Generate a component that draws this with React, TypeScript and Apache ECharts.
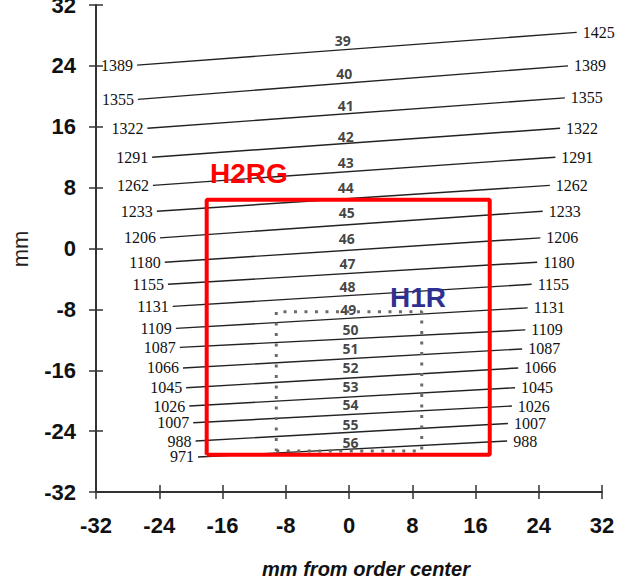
import React, { useEffect, useRef } from "react";
import * as echarts from "echarts";

const orders = [39, 40, 41, 42, 43, 44, 45, 46, 47, 48, 49, 50, 51, 52, 53, 54, 55, 56];
const leftWavelengths = [1389, 1355, 1322, 1291, 1262, 1233, 1206, 1180, 1155, 1131, 1109, 1087, 1066, 1045, 1026, 1007, 988, 971];
const rightWavelengths = [1425, 1389, 1355, 1322, 1291, 1262, 1233, 1206, 1180, 1155, 1131, 1109, 1087, 1066, 1045, 1026, 1007, 988];
const leftX = [-26.8, -26.7, -25.5, -24.9, -24.8, -24.3, -23.9, -23.3, -22.9, -22.3, -21.9, -21.4, -21.0, -20.6, -20.2, -19.7, -19.4, -19.1];
const leftY = [24.1, 19.6, 15.8, 12.0, 8.3, 4.9, 1.4, -1.8, -4.7, -7.6, -10.5, -13.0, -15.7, -18.3, -20.7, -22.9, -25.3, -27.4];
const rightX = [28.8, 27.7, 27.3, 26.7, 26.1, 25.4, 24.5, 24.2, 23.8, 23.1, 22.6, 22.3, 21.9, 21.4, 21.0, 20.6, 20.1, 20.0];
const rightY = [28.4, 24.0, 19.8, 15.8, 12.0, 8.3, 4.9, 1.4, -1.8, -4.7, -7.8, -10.7, -13.2, -15.7, -18.3, -20.7, -23.0, -25.3];
const orderLabelX = [-0.8, -0.6, -0.4, -0.4, -0.4, -0.4, -0.3, -0.3, -0.2, -0.2, -0.1, 0.2, 0.2, 0.2, 0.2, 0.2, 0.2, 0.2];
const orderLabelY = [27.4, 23.0, 18.8, 14.7, 11.3, 8.0, 4.7, 1.3, -2.0, -5.0, -8.0, -10.7, -13.2, -15.7, -18.1, -20.5, -23.1, -25.5];

const h2rgX = [-18.0, 17.8];
const h2rgY = [-27.1, 6.4];
const h1rX = [-9.2, 9.2];
const h1rY = [-26.6, -8.3];

function boxPoints(xs: number[], ys: number[]) {
  return [
    [xs[0], ys[0]],
    [xs[1], ys[0]],
    [xs[1], ys[1]],
    [xs[0], ys[1]],
    [xs[0], ys[0]],
  ];
}

export default function App() {
  const ref = useRef<HTMLDivElement>(null);
  useEffect(() => {
    document.body.style.margin = "0";
    if (!ref.current) return;
    const chart = echarts.init(ref.current, undefined, { renderer: "svg" });

    const orderSeries: any[] = orders.map((o, i) => ({
      type: "line",
      name: "order" + o,
      data: [
        {
          value: [leftX[i], leftY[i]],
          label: {
            show: true,
            position: "left",
            distance: 4,
            formatter: String(leftWavelengths[i]),
          },
        },
        {
          value: [rightX[i], rightY[i]],
          label: {
            show: true,
            position: "right",
            distance: 6,
            formatter: String(rightWavelengths[i]),
          },
        },
      ],
      symbol: "circle",
      symbolSize: 0.01,
      showSymbol: true,
      itemStyle: { color: "#222" },
      lineStyle: { color: "#222", width: 1.4 },
      label: {
        show: true,
        fontFamily: "Liberation Serif",
        fontSize: 16,
        color: "#111",
      },
      silent: true,
      z: 2,
    }));

    const tickLabelStyle = {
      fontFamily: "Liberation Sans",
      fontWeight: "bold" as const,
      fontSize: 22,
      color: "#111",
    };

    const option: any = {
      animation: false,
      backgroundColor: "#fff",
      grid: { left: 96, right: 16, top: 5, bottom: 90, containLabel: false, outerBoundsMode: "none" },
      xAxis: [
        {
          type: "value",
          min: -32,
          max: 32,
          interval: 8,
          position: "bottom",
          axisLine: { show: true, onZero: false, lineStyle: { color: "#333", width: 2 } },
          axisTick: { show: true, length: 7, lineStyle: { color: "#333", width: 1.5 } },
          axisLabel: { ...tickLabelStyle, margin: 22, formatter: (v: number) => String(v) },
          splitLine: { show: false },
        },
        {
          type: "value",
          min: -32,
          max: 32,
          interval: 8,
          position: "bottom",
          axisLine: { show: false, onZero: false },
          axisTick: { show: true, inside: true, length: 7, lineStyle: { color: "#333", width: 1.5 } },
          axisLabel: { show: false },
          splitLine: { show: false },
        },
      ],
      yAxis: [
        {
          type: "value",
          min: -32,
          max: 32,
          interval: 8,
          position: "left",
          axisLine: { show: true, onZero: false, lineStyle: { color: "#333", width: 2 } },
          axisTick: { show: true, length: 7, lineStyle: { color: "#333", width: 1.5 } },
          axisLabel: { ...tickLabelStyle, margin: 20, formatter: (v: number) => String(v) },
          splitLine: { show: false },
        },
        {
          type: "value",
          min: -32,
          max: 32,
          interval: 8,
          position: "left",
          axisLine: { show: false, onZero: false },
          axisTick: { show: true, inside: true, length: 7, lineStyle: { color: "#333", width: 1.5 } },
          axisLabel: { show: false },
          splitLine: { show: false },
        },
      ],
      series: [
        ...orderSeries,
        {
          type: "scatter",
          name: "orders",
          symbolSize: 0,
          data: orders.map((o, i) => [orderLabelX[i], orderLabelY[i], o]),
          label: {
            show: true,
            position: "inside",
            formatter: (p: any) => String(p.value[2]),
            fontFamily: "Open Sans",
            fontWeight: "bold",
            fontSize: 14,
            lineHeight: 14,
            color: "#111",
          },
          silent: true,
          z: 3,
        },
        {
          type: "line",
          name: "H2RG",
          data: boxPoints(h2rgX, h2rgY),
          symbol: "none",
          lineStyle: { color: "#ff0000", width: 4 },
          silent: true,
          z: 5,
        },
        {
          type: "line",
          name: "H1R",
          data: boxPoints(h1rX, h1rY),
          symbol: "none",
          lineStyle: { color: "#6b6b6b", width: 3, type: [3, 7.5] },
          silent: true,
          z: 4,
        },
      ],
      graphic: [
        {
          type: "text",
          left: 210,
          top: 159,
          style: {
            text: "H2RG",
            fontFamily: "Liberation Sans",
            fontWeight: "bold",
            fontSize: 28,
            fill: "#ff0000",
          },
          z: 10,
        },
        {
          type: "text",
          left: 390,
          top: 283,
          style: {
            text: "H1R",
            fontFamily: "Liberation Sans",
            fontWeight: "bold",
            fontSize: 28,
            fill: "#2e3192",
          },
          z: 10,
        },
        {
          type: "text",
          x: 366,
          y: 569,
          style: {
            text: "mm from order center",
            fontFamily: "Liberation Sans",
            fontWeight: "bold",
            fontStyle: "italic",
            fontSize: 20,
            fill: "#111",
            align: "center",
            verticalAlign: "middle",
          },
        },
        {
          type: "text",
          x: 20,
          y: 249,
          rotation: Math.PI / 2,
          style: {
            text: "mm",
            fontFamily: "Liberation Sans",
            fontSize: 22,
            fill: "#222",
            align: "center",
            verticalAlign: "middle",
          },
        },
      ],
    };
    chart.setOption(option);
    return () => chart.dispose();
  }, []);
  return <div ref={ref} style={{ width: 618, height: 582 }} />;
}
